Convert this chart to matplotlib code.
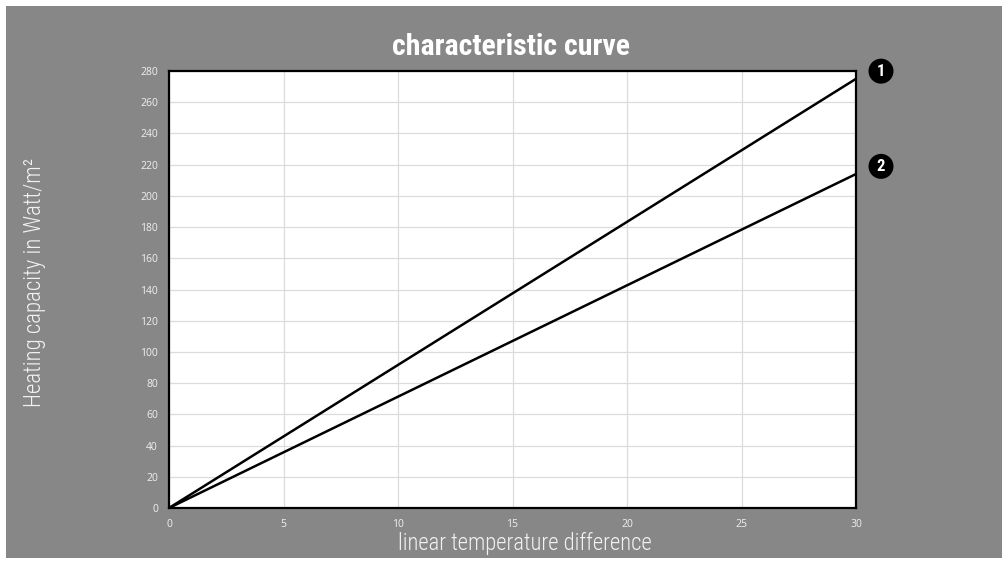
import matplotlib
matplotlib.use("Agg")
import matplotlib.pyplot as plt
from matplotlib.patches import Rectangle

# data
delta_t = [0, 30]
curve_1 = [0, 275]
curve_2 = [0, 214]
curve_labels = ["1", "2"]
x_ticks = [0, 5, 10, 15, 20, 25, 30]
y_ticks = list(range(0, 281, 20))

bg = "#878787"
narrow = ["Liberation Sans Narrow", "DejaVu Sans Condensed", "Roboto Condensed", "Roboto", "DejaVu Sans"]

fig = plt.figure(figsize=(10.02, 5.61), dpi=100, facecolor="white")
fig.patches.append(Rectangle((6 / 1002, 3 / 561), 1, 1 - 9 / 561, transform=fig.transFigure,
                             facecolor=bg, edgecolor="none", zorder=-10))

ax = fig.add_axes([169 / 1002, 1 - 508 / 561, 687 / 1002, 437 / 561])
ax.set_facecolor("white")

ax.plot(delta_t, curve_1, color="black", lw=1.8, solid_capstyle="butt")
ax.plot(delta_t, curve_2, color="black", lw=1.8, solid_capstyle="butt")

ax.set_xlim(0, 30)
ax.set_ylim(0, 280)
ax.set_xticks(x_ticks)
ax.set_yticks(y_ticks)
ax.grid(True, color="#dcdcdc", lw=0.9)
ax.set_axisbelow(True)
ax.tick_params(length=0, labelsize=7.5, colors="#f0f0f0", pad=8)
for lbl in ax.get_xticklabels() + ax.get_yticklabels():
    lbl.set_family(["Open Sans", "DejaVu Sans"])
for sp in ax.spines.values():
    sp.set_color("black")
    sp.set_linewidth(1.6)

# numbered markers at the end of each curve
for yv, lab in zip([curve_1[-1], curve_2[-1]], curve_labels):
    ax.annotate(lab, xy=(30, yv), xytext=(18, 5.5), textcoords="offset points",
                ha="center", va="center", color="white", fontsize=12, fontweight="bold",
                family=narrow, annotation_clip=False,
                bbox=dict(boxstyle="circle,pad=0.3", fc="black", ec="none"))

fig.text(511 / 1002, 1 - 47 / 561, "characteristic curve", ha="center", va="center",
         color="white", fontsize=21.5, fontweight="bold", family=narrow)
fig.text(525 / 1002, 1 - 543 / 561, "linear temperature difference", ha="center", va="center",
         color="#f2f2f2", fontsize=16.3, fontweight="light", family=narrow)
fig.text(35 / 1002, 1 - 282 / 561, "Heating capacity in Watt/m²", ha="center", va="center",
         rotation=90, color="#f2f2f2", fontsize=16.5, fontweight="light", family=narrow)

fig.savefig("out.png", dpi=100, facecolor=fig.get_facecolor())
